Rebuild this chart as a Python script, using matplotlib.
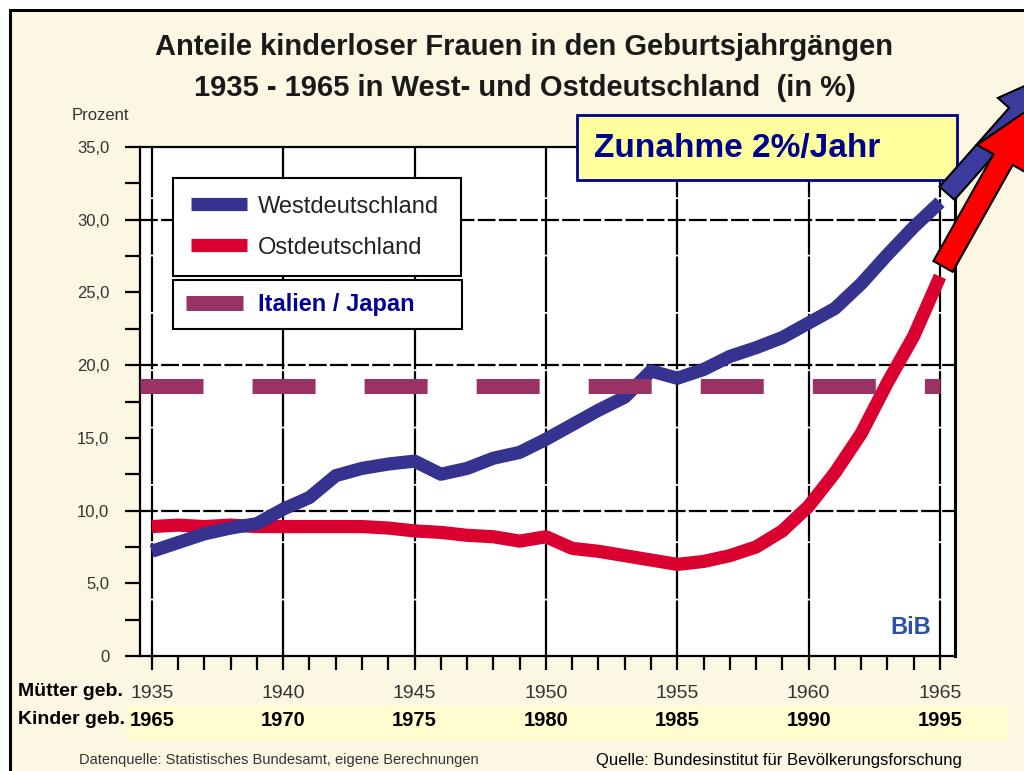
import matplotlib
matplotlib.use("Agg")
import matplotlib.pyplot as plt
from matplotlib.patches import Rectangle, FancyArrow
from matplotlib.ticker import MultipleLocator, FuncFormatter
from matplotlib.transforms import blended_transform_factory

# ---- data ----
years = list(range(1935, 1966))
west = [7.2, 7.8, 8.4, 8.8, 9.1, 10.1, 10.9, 12.4, 12.9, 13.2, 13.4,
        12.5, 12.9, 13.6, 14.0, 14.9, 15.9, 16.9, 17.8, 19.6, 19.1,
        19.7, 20.6, 21.2, 21.9, 22.9, 23.9, 25.6, 27.6, 29.5, 31.2]
east = [8.9, 9.0, 8.9, 9.0, 8.9, 8.9, 8.9, 8.9, 8.9, 8.8, 8.6,
        8.5, 8.3, 8.2, 7.9, 8.2, 7.4, 7.2, 6.9, 6.6, 6.3,
        6.5, 6.9, 7.5, 8.6, 10.3, 12.6, 15.3, 18.8, 22.0, 26.1]
italien_japan = 18.6

mutter_years = [1935, 1940, 1945, 1950, 1955, 1960, 1965]
kinder_years = ["1965", "1970", "1975", "1980", "1985", "1990", "1995"]

series_labels = ["Westdeutschland", "Ostdeutschland"]
ref_label = "Italien / Japan"

# ---- colours ----
CREAM = "#FCF7E2"
BAND = "#FFFDD0"
BLUE = "#35338F"
RED = "#DA0030"
PURPLE = "#993366"
NAVY = "#000090"
GREY = "#333333"

plt.rcParams["font.family"] = ["Liberation Sans", "DejaVu Sans"]

W, H = 1024, 771
fig = plt.figure(figsize=(W / 100, H / 100), dpi=100)
fig.patch.set_facecolor("white")

# background layer in pixel coords (y down)
bg = fig.add_axes([0, 0, 1, 1], zorder=-1)
bg.set_xlim(0, W)
bg.set_ylim(H, 0)
bg.axis("off")
bg.add_patch(Rectangle((10, 10), W + 40, H + 40, fc=CREAM, ec="black", lw=2.2))
bg.add_patch(Rectangle((126, 706), 883, 34, fc=BAND, ec="none"))

# ---- main plot ----
ax = fig.add_axes([140 / W, 1 - 656 / H, 815 / W, 509 / H], zorder=1)
ax.set_facecolor("white")
ax.set_xlim(1934.55, 1965.57)
ax.set_ylim(0, 35)

for s in ax.spines.values():
    s.set_linewidth(1.6)
    s.set_color("black")
ax.spines["right"].set_linewidth(2.2)

ax.xaxis.set_major_locator(MultipleLocator(5))
ax.xaxis.set_minor_locator(MultipleLocator(1))
ax.yaxis.set_major_locator(MultipleLocator(5))
ax.yaxis.set_minor_locator(MultipleLocator(2.5))
ax.yaxis.set_major_formatter(FuncFormatter(
    lambda v, p: "0" if v == 0 else f"{v:.1f}".replace(".", ",")))
ax.xaxis.set_major_formatter(FuncFormatter(lambda v, p: f"{int(v)}"))

ax.tick_params(axis="y", which="both", length=11, width=1.6, direction="out",
               pad=11, labelsize=12, labelcolor=GREY)
ax.tick_params(axis="x", which="both", length=10, width=1.6, direction="out",
               pad=11, labelsize=14, labelcolor=GREY)

# grid: every 5 years vertical, every 10 % horizontal
ax.grid(axis="x", which="major", color="black", lw=1.6, linestyle=(0, (25, 0.8)))
for v in range(10, 35, 10):
    ax.axhline(v, color="black", lw=1.6, linestyle=(0, (8, 1.5)), zorder=1.5)

l_w, = ax.plot(years, west, color=BLUE, lw=9.5, solid_capstyle="butt",
               solid_joinstyle="round", zorder=3)
l_e, = ax.plot(years, east, color=RED, lw=9.5, solid_capstyle="butt",
               solid_joinstyle="round", zorder=2.9)
l_ij, = ax.plot([ax.get_xlim()[0], years[-1]], [italien_japan, italien_japan],
                color=PURPLE, lw=10.8, linestyle=(0, (4.2, 3.27)),
                dash_capstyle="butt", zorder=3.5)

leg1 = ax.legend([l_w, l_e], series_labels, loc="upper left",
                 bbox_to_anchor=(0.0405, 0, 0.3534, 0.939), mode="expand",
                 borderaxespad=0, fontsize=17, handlelength=2.4,
                 handletextpad=0.45, borderpad=0.75, labelspacing=0.8,
                 fancybox=False, framealpha=1, edgecolor="black",
                 labelcolor="#222222")
leg1.get_frame().set_linewidth(1.5)
ax.add_artist(leg1)

leg2 = ax.legend([l_ij], [ref_label], loc="upper left",
                 bbox_to_anchor=(0.0405, 0, 0.3546, 0.7387), mode="expand",
                 borderaxespad=0, prop={"size": 17, "weight": "bold"},
                 handlelength=2.4, handletextpad=0.65, borderpad=0.55,
                 fancybox=False, framealpha=1, edgecolor="black",
                 labelcolor=NAVY)
leg2.get_frame().set_linewidth(1.5)

# ---- overlay for texts, box and arrows ----
top = fig.add_axes([0, 0, 1, 1], zorder=3)
top.set_xlim(0, W)
top.set_ylim(H, 0)
top.axis("off")

top.text(524, 47, "Anteile kinderloser Frauen in den Geburtsjahrgängen",
         ha="center", va="center", fontsize=21, fontweight="bold", color="#1a1a1a")
top.text(525, 88, "1935 - 1965 in West- und Ostdeutschland  (in %)",
         ha="center", va="center", fontsize=21, fontweight="bold", color="#1a1a1a")
top.text(72, 115, "Prozent", ha="left", va="center", fontsize=12, color=GREY)

top.text(18, 691, "Mütter geb.", ha="left", va="center", fontsize=14,
         fontweight="bold", color="black")
top.text(18, 719, "Kinder geb.", ha="left", va="center", fontsize=14,
         fontweight="bold", color="black")
row2 = blended_transform_factory(ax.transData, top.transData)
for yr, lab in zip(mutter_years, kinder_years):
    ax.text(yr, 720, lab, transform=row2, ha="center", va="center",
            fontsize=14.5, fontweight="bold", color="black", clip_on=False)

top.text(279, 760, "Datenquelle: Statistisches Bundesamt, eigene Berechnungen",
         ha="center", va="center", fontsize=10.5, color=GREY)
top.text(779, 760, "Quelle: Bundesinstitut für Bevölkerungsforschung",
         ha="center", va="center", fontsize=12, color="black")

top.text(911, 628, "BiB", ha="center", va="center", fontsize=17,
         fontweight="bold", color="#2B50A8")

# Zunahme box
top.add_patch(Rectangle((577, 115), 380, 65, fc="#FFFF9E", ec=NAVY, lw=2))
top.text(594, 148, "Zunahme 2%/Jahr", ha="left", va="center", fontsize=24,
         fontweight="bold", color=NAVY)


def to_px(x, y):
    return top.transData.inverted().transform(ax.transData.transform((x, y)))


# trend arrows continuing both curves beyond 1965
bx, by = to_px(years[-1], west[-1])
top.add_patch(FancyArrow(bx + 7, by - 9, 106, -120, width=20, head_width=50,
                         head_length=55, length_includes_head=True,
                         fc="#3B3B9E", ec="black", lw=1.5, clip_on=False))
rx, ry = to_px(years[-1], east[-1])
top.add_patch(FancyArrow(rx + 3, ry - 10, 90, -160, width=22, head_width=60,
                         head_length=61, length_includes_head=True,
                         fc="#FF0000", ec="black", lw=1.5, clip_on=False))

fig.savefig("out.png", dpi=100)
